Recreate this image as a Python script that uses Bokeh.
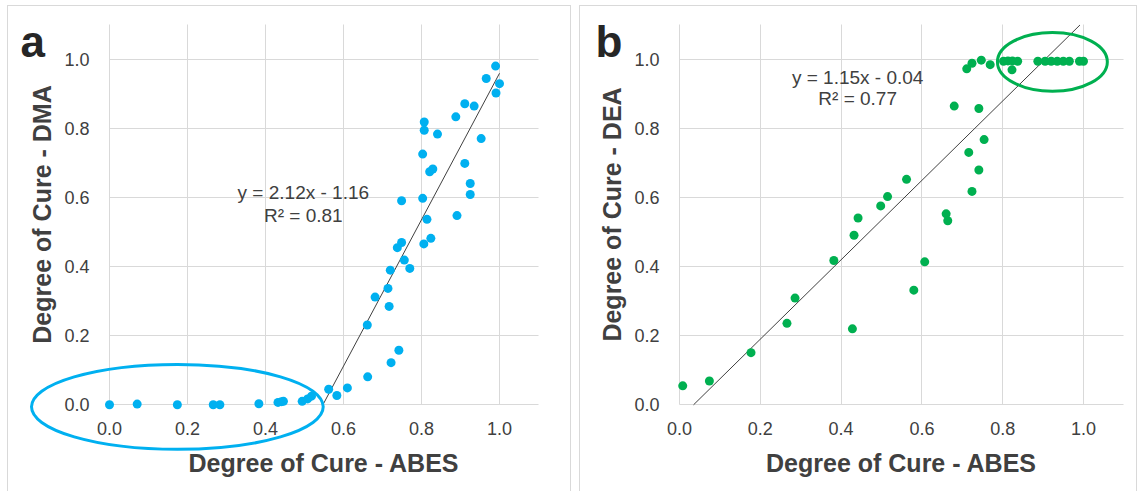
import numpy as np
from bokeh.plotting import figure
from bokeh.models import Label, FixedTicker, Range1d, Spacer
from bokeh.layouts import row, column
from bokeh.embed import file_html
from bokeh.resources import INLINE

# ---------------- data ----------------
ABES_A = [0.000, 0.071, 0.174, 0.266, 0.283, 0.383, 0.432, 0.441, 0.446, 0.494,
          0.508, 0.518, 0.562, 0.583, 0.610, 0.662, 0.722, 0.742, 0.661, 0.717,
          0.681, 0.714, 0.720, 0.770, 0.756, 0.738, 0.749, 0.806, 0.824, 0.814,
          0.891, 0.749, 0.803, 0.925, 0.925, 0.821, 0.829, 0.911, 0.803, 0.953,
          0.841, 0.807, 0.807, 0.888, 0.935, 0.911, 0.991, 1.000, 0.966, 0.990]
DMA = [0.000, 0.002, 0.000, 0.000, 0.000, 0.003, 0.007, 0.009, 0.010, 0.010,
       0.017, 0.025, 0.045, 0.027, 0.049, 0.081, 0.122, 0.158, 0.231, 0.285,
       0.312, 0.337, 0.390, 0.395, 0.419, 0.455, 0.470, 0.466, 0.482, 0.537,
       0.548, 0.591, 0.598, 0.609, 0.641, 0.675, 0.683, 0.699, 0.726, 0.771,
       0.784, 0.795, 0.819, 0.834, 0.865, 0.872, 0.903, 0.930, 0.945, 0.981]

ABES_B = [0.008, 0.074, 0.177, 0.266, 0.286, 0.382, 0.428, 0.432, 0.442, 0.498,
          0.515, 0.562, 0.580, 0.607, 0.660, 0.664, 0.680, 0.716, 0.724, 0.741,
          0.741, 0.754, 0.711, 0.724, 0.747, 0.769, 0.802, 0.813, 0.824, 0.837,
          0.823, 0.887, 0.905, 0.920, 0.935, 0.950, 0.965, 0.990, 1.000]
DEA = [0.055, 0.069, 0.151, 0.236, 0.309, 0.418, 0.220, 0.491, 0.541, 0.576,
       0.603, 0.653, 0.332, 0.414, 0.553, 0.533, 0.865, 0.731, 0.618, 0.680,
       0.858, 0.768, 0.973, 0.989, 0.998, 0.985, 0.995, 0.996, 0.996, 0.995,
       0.970, 0.995, 0.995, 0.995, 0.995, 0.995, 0.995, 0.995, 0.995]

TICKS = [0.0, 0.2, 0.4, 0.6, 0.8, 1.0]
TICK_LABELS = ["0.0", "0.2", "0.4", "0.6", "0.8", "1.0"]
AXIS_MAX = 1.1

FIT_A = {"slope": 2.12, "intercept": -1.16, "r2": 0.81}
FIT_B = {"slope": 1.15, "intercept": -0.04, "r2": 0.77}

X_TITLE = "Degree of Cure - ABES"
Y_TITLE_A = "Degree of Cure - DMA"
Y_TITLE_B = "Degree of Cure - DEA"

# highlight ellipses (center x, center y, radius x, radius y) in data units
ELL_A = (0.174, -0.006, 0.374, 0.123)
ELL_B = (0.923, 0.993, 0.136, 0.085)

BLUE = "#00B0F0"
GREEN = "#00B050"
TXT = "#404040"
GRID = "#d9d9d9"
FONT = "Liberation Sans"

# ---------------- layout (pixels) ----------------
H = 486            # canvas height
Y0_PX = 398.3      # canvas row of y = 0 (from top)
Y_SCALE = 345.3    # px per unit


def make_panel(letter, xs, ys, color, fit, ytitle, ell, eq_pos, width, x0_px, x_scale, letter_x):
    xr = Range1d(-x0_px / x_scale, (width - x0_px) / x_scale)
    yr = Range1d(-(H - Y0_PX) / Y_SCALE, Y0_PX / Y_SCALE)
    p = figure(width=width, height=H, x_range=xr, y_range=yr, title=None,
               output_backend="svg", toolbar_location=None,
               min_border_left=0, min_border_right=0, min_border_top=0, min_border_bottom=0)
    p.outline_line_color = None
    p.background_fill_color = "white"
    p.border_fill_color = "white"
    p.styles = {"border-left": "1px solid #d9d9d9", "border-top": "1px solid #d9d9d9",
                "border-right": "1px solid #d9d9d9"}

    for ax in (p.xaxis[0], p.yaxis[0]):
        ax.fixed_location = 0
        ax.bounds = (0, AXIS_MAX)
        ax.ticker = FixedTicker(ticks=TICKS)
        ax.major_label_overrides = {t: l for t, l in zip(TICKS, TICK_LABELS)}
        ax.major_tick_line_color = None
        ax.minor_tick_line_color = None
        ax.axis_line_color = None
        ax.major_label_text_font = FONT
        ax.major_label_text_font_size = "18px"
        ax.major_label_text_color = TXT
        ax.axis_label_text_font = FONT
        ax.axis_label_text_font_size = "25px"
        ax.axis_label_text_font_style = "bold"
        ax.axis_label_text_color = TXT
    p.xaxis[0].axis_label = X_TITLE
    p.xaxis[0].major_label_standoff = 11
    p.xaxis[0].axis_label_standoff = 11
    p.yaxis[0].axis_label = ytitle
    p.yaxis[0].major_label_standoff = 14
    p.yaxis[0].axis_label_standoff = 5

    for g in (p.xgrid[0], p.ygrid[0]):
        g.ticker = FixedTicker(ticks=TICKS)
        g.bounds = (-0.1, AXIS_MAX + 0.01)
        g.cross_bounds = (0, AXIS_MAX)
        g.grid_line_color = GRID
        g.grid_line_width = 1

    # trendline from fit coefficients
    m, b = fit["slope"], fit["intercept"]
    x_start = max(0.0, -b / m)
    x_stop = min(1.0, (AXIS_MAX - b) / m)
    fx = np.array([x_start, x_stop])
    p.line(fx, m * fx + b, line_color="#404040", line_width=1)

    p.scatter(xs, ys, size=9, fill_color=color, line_color=None)

    # highlight ellipse
    cx, cy, rx, ry = ell
    p.ellipse(x=[cx], y=[cy], width=[2 * rx], height=[2 * ry],
              fill_color=None, line_color=color, line_width=3)

    sign = "-" if b < 0 else "+"
    eq1 = f"y = {m:.2f}x {sign} {abs(b):.2f}"
    eq2 = f"R\u00b2 = {fit['r2']:.2f}"
    ex, ey1, ey2 = eq_pos
    for txt, yy in ((eq1, ey1), (eq2, ey2)):
        p.add_layout(Label(x=ex, y=yy, text=txt, text_align="center", text_baseline="middle",
                           text_font=FONT, text_font_size="19px", text_color=TXT))

    p.add_layout(Label(x=letter_x, y=1.052, text=letter, text_align="left",
                       text_baseline="alphabetic", text_font=FONT, text_font_size="44px",
                       text_font_style="bold", text_color="#262626"))
    return p


pa = make_panel("a", ABES_A, DMA, BLUE, FIT_A, Y_TITLE_A, ELL_A, (0.497, 0.615, 0.548),
                564, 101, 390.0, -0.228)
pb = make_panel("b", ABES_B, DEA, GREEN, FIT_B, Y_TITLE_B, ELL_B, (0.441, 0.949, 0.887),
                558, 99, 404.0, -0.208)

layout = column(Spacer(height=5),
                row(Spacer(width=7), pa, Spacer(width=8), pb))
open("out.html", "w").write(file_html(layout, INLINE))
